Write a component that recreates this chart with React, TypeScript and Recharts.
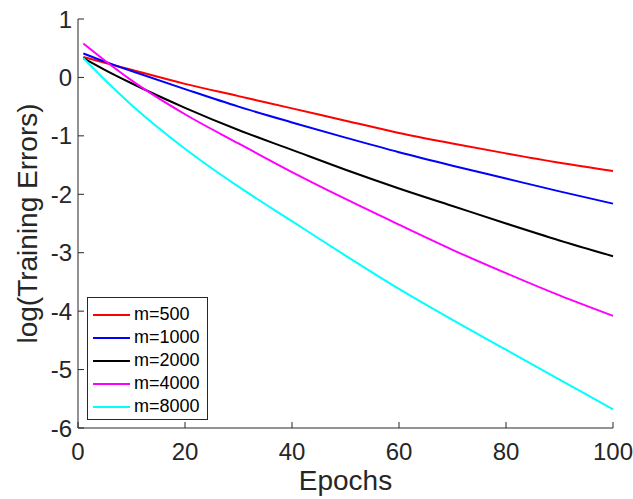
import React from 'react';
import { LineChart, Line, XAxis, YAxis, Legend, Label } from 'recharts';

const epochs = [1, 5, 10, 20, 30, 40, 50, 60, 70, 80, 90, 100];

const m500 = [0.35, 0.25, 0.13, -0.11, -0.32, -0.53, -0.74, -0.95, -1.13, -1.3, -1.46, -1.6];
const m1000 = [0.41, 0.27, 0.11, -0.2, -0.5, -0.77, -1.03, -1.28, -1.51, -1.73, -1.95, -2.16];
const m2000 = [0.33, 0.13, -0.1, -0.52, -0.9, -1.24, -1.58, -1.9, -2.2, -2.5, -2.79, -3.06];
const m4000 = [0.58, 0.29, -0.05, -0.63, -1.13, -1.62, -2.08, -2.52, -2.95, -3.35, -3.73, -4.08];
const m8000 = [0.33, -0.04, -0.47, -1.22, -1.87, -2.46, -3.05, -3.62, -4.15, -4.66, -5.17, -5.68];

const xTicks = [0, 20, 40, 60, 80, 100];
const yTicks = [-6, -5, -4, -3, -2, -1, 0, 1];

const series = [
  { key: 'm500', name: 'm=500', color: '#ff0000' },
  { key: 'm1000', name: 'm=1000', color: '#0000ff' },
  { key: 'm2000', name: 'm=2000', color: '#000000' },
  { key: 'm4000', name: 'm=4000', color: '#ff00ff' },
  { key: 'm8000', name: 'm=8000', color: '#00ffff' },
];

const data = epochs.map((epoch, i) => ({
  epoch,
  m500: m500[i],
  m1000: m1000[i],
  m2000: m2000[i],
  m4000: m4000[i],
  m8000: m8000[i],
}));

const AXIS = '#262626';

const XTick = (props: any) => {
  const { x, y, payload } = props;
  return (
    <g>
      <line x1={x} x2={x} y1={y} y2={y - 6} stroke={AXIS} strokeWidth={1} />
      <text x={x} y={y + 32} textAnchor="middle" fontSize={24} fill={AXIS}>
        {payload.value}
      </text>
    </g>
  );
};

const YTick = (props: any) => {
  const { x, y, payload } = props;
  return (
    <g>
      <line x1={x} x2={x + 6} y1={y} y2={y} stroke={AXIS} strokeWidth={1} />
      <text x={x - 6} y={y} dy="0.36em" textAnchor="end" fontSize={24} fill={AXIS}>
        {payload.value}
      </text>
    </g>
  );
};

const XTitle = (props: any) => {
  const { viewBox } = props;
  return (
    <text x={viewBox.x + viewBox.width / 2} y={490} textAnchor="middle" fontSize={28} fill={AXIS}>
      Epochs
    </text>
  );
};

const YTitle = (props: any) => {
  const { viewBox } = props;
  const cx = 37;
  const cy = viewBox.y + viewBox.height / 2;
  return (
    <text x={cx} y={cy} transform={`rotate(-90, ${cx}, ${cy})`} textAnchor="middle" fontSize={28} fill={AXIS}>
      log(Training Errors)
    </text>
  );
};

const LegendBox = (props: any) => {
  const order = series.map((s) => s.name);
  const items = [...(props.payload || [])].sort(
    (a: any, b: any) => order.indexOf(a.value) - order.indexOf(b.value)
  );
  return (
    <div
      style={{
        border: `1px solid ${AXIS}`,
        background: '#fff',
        width: 119,
        paddingTop: 5,
        paddingBottom: 1,
        boxSizing: 'content-box',
      }}
    >
      {items.map((p: any) => (
        <div key={p.value} style={{ height: 23, display: 'flex', alignItems: 'center' }}>
          <span style={{ display: 'inline-block', width: 37, height: 2, background: p.color, marginLeft: 5 }} />
          <span style={{ marginLeft: 4, fontSize: 18, color: '#000', lineHeight: '23px' }}>{p.value}</span>
        </div>
      ))}
    </div>
  );
};

export default function App() {
  return (
    <div
      style={{
        fontFamily: '"Liberation Sans", Arial, sans-serif',
        position: 'absolute',
        left: 0,
        top: 0,
        width: 633,
        height: 499,
        overflow: 'hidden',
        background: '#fff',
      }}
    >
      <LineChart width={633} height={499} data={data} margin={{ top: 19, right: 20, left: 0, bottom: 0 }}>
        <XAxis
          dataKey="epoch"
          type="number"
          domain={[0, 100]}
          ticks={xTicks}
          height={71}
          tickSize={0}
          tickMargin={0}
          tick={<XTick />}
          axisLine={{ stroke: AXIS, strokeWidth: 1 }}
          tickLine={false}
        >
          <Label content={<XTitle />} />
        </XAxis>
        <YAxis
          type="number"
          domain={[-6, 1]}
          ticks={yTicks}
          width={78}
          tickSize={0}
          tickMargin={0}
          tick={<YTick />}
          axisLine={{ stroke: AXIS, strokeWidth: 1 }}
          tickLine={false}
          interval={0}
        >
          <Label content={<YTitle />} />
        </YAxis>
        <Legend
          layout="vertical"
          align="center"
          verticalAlign="middle"
          content={<LegendBox />}
          wrapperStyle={{ left: 87, top: 297, width: 121, height: 'auto' }}
        />
        {series.map((s) => (
          <Line
            key={s.key}
            type="monotone"
            dataKey={s.key}
            name={s.name}
            stroke={s.color}
            strokeWidth={2}
            dot={false}
            activeDot={false}
            isAnimationActive={false}
          />
        ))}
      </LineChart>
    </div>
  );
}
